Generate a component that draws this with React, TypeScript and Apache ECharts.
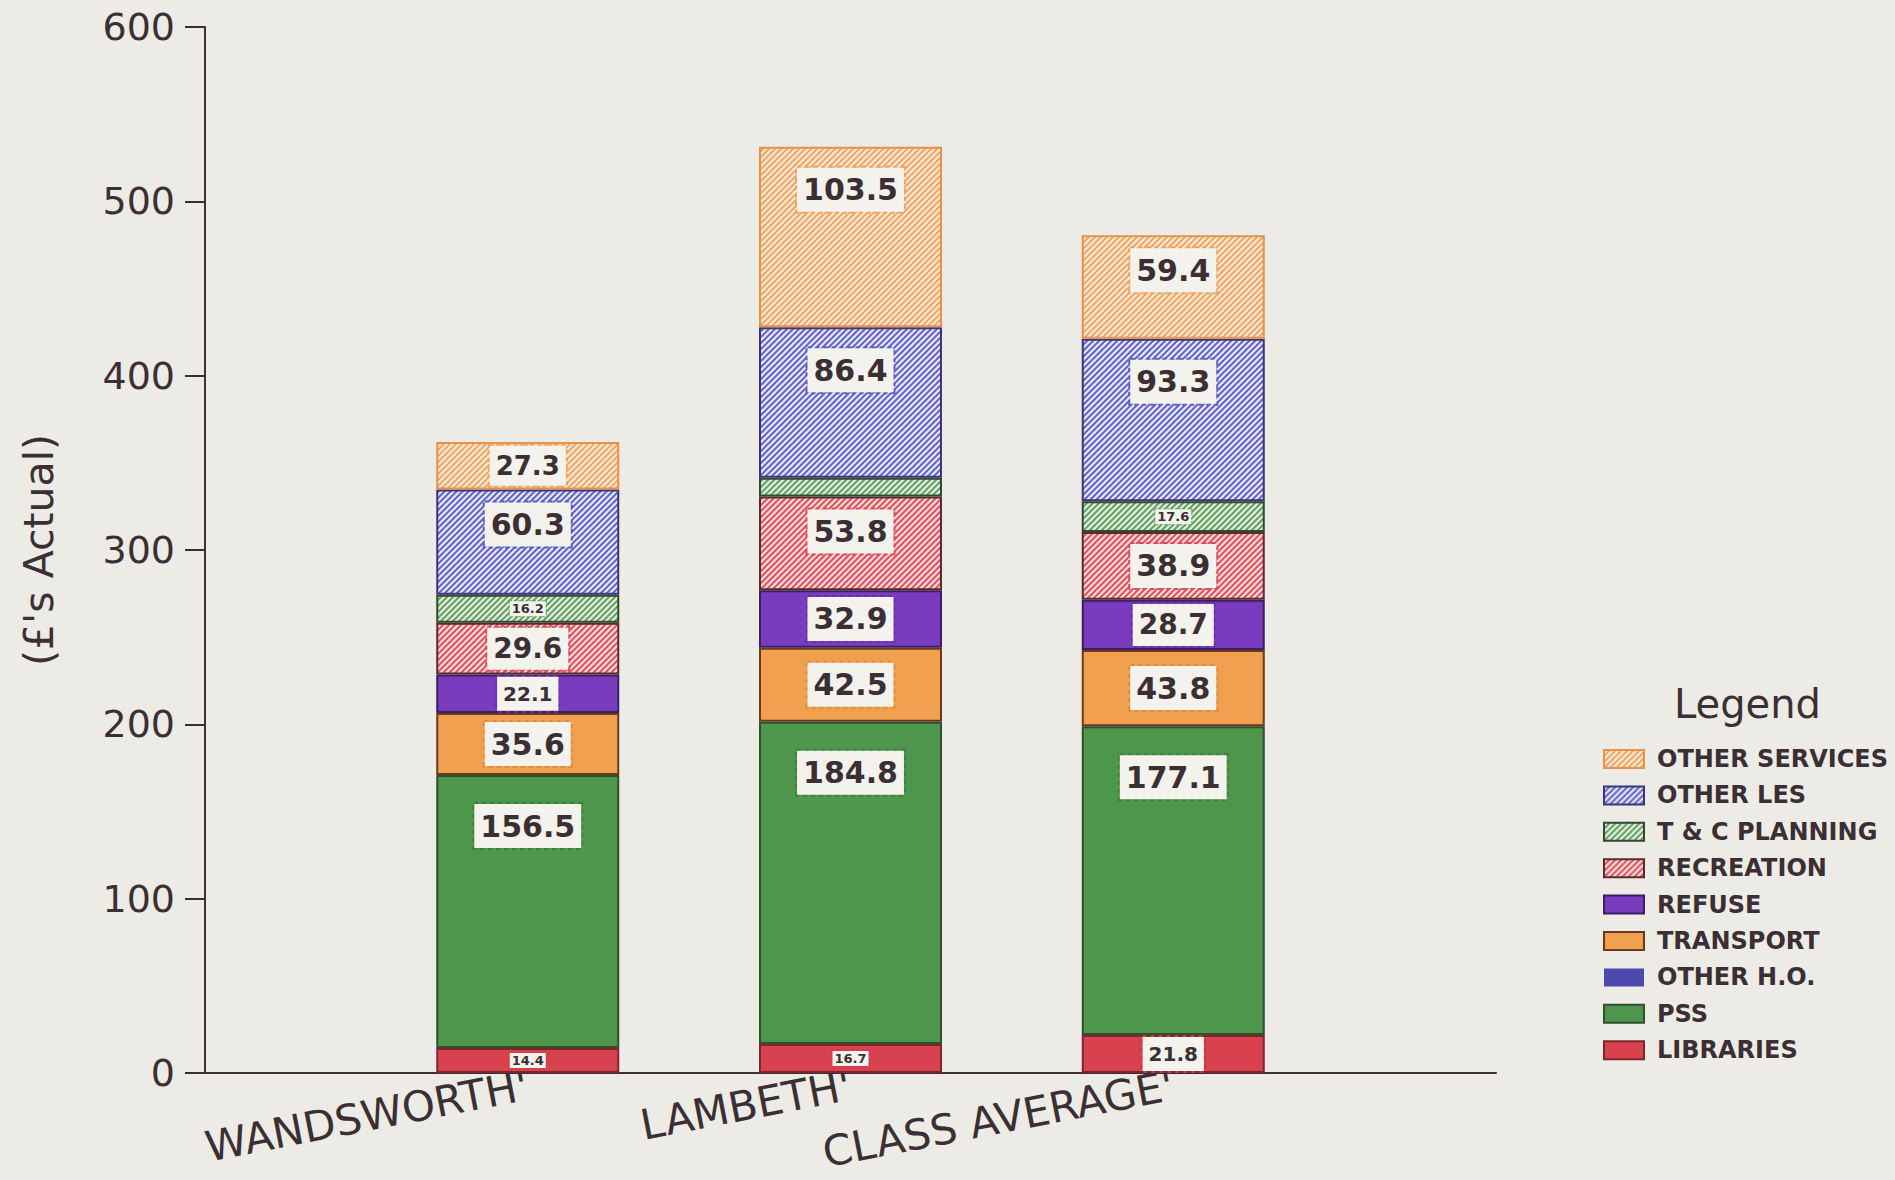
import React, { useEffect, useRef } from "react";
import * as echarts from "echarts";

// Spending per head by service, stacked per authority
const categories = ["", "WANDSWORTH'", "LAMBETH'", "CLASS AVERAGE'", ""];
const libraries = [null, 14.4, 16.7, 21.8, null];
const pss = [null, 156.5, 184.8, 177.1, null];
const otherHO = [null, 0, 0, 0, null];
const transport = [null, 35.6, 42.5, 43.8, null];
const refuse = [null, 22.1, 32.9, 28.7, null];
const recreation = [null, 29.6, 53.8, 38.9, null];
const tcPlanning = [null, 16.2, 10.7, 17.6, null];
const otherLes = [null, 60.3, 86.4, 93.3, null];
const otherServices = [null, 27.3, 103.5, 59.4, null];

// segments drawn without a value box
const unlabelled: Array<[string, string]> = [["T & C PLANNING", "LAMBETH'"]];

const yTicks = [0, 100, 200, 300, 400, 500, 600];

const INK = "#3b2f34";
const PAPER = "#ecebe5";
const FONT = "'DejaVu Sans', sans-serif";

function hatch(bg: string, line: string, size = 6, width = 1.9) {
  const c = document.createElement("canvas");
  c.width = size;
  c.height = size;
  const ctx = c.getContext("2d")!;
  ctx.fillStyle = bg;
  ctx.fillRect(0, 0, size, size);
  ctx.strokeStyle = line;
  ctx.lineWidth = width;
  ctx.beginPath();
  ctx.moveTo(-size / 2, size / 2);
  ctx.lineTo(size / 2, -size / 2);
  ctx.moveTo(0, size);
  ctx.lineTo(size, 0);
  ctx.moveTo(size / 2, size * 1.5);
  ctx.lineTo(size * 1.5, size / 2);
  ctx.stroke();
  return { image: c, repeat: "repeat" } as any;
}

type Svc = {
  name: string;
  data: (number | null)[];
  fill: any;
  edge: string;
  boxEdge: string;
};

function labelSize(v: number) {
  if (v < 20) return 13;
  if (v < 25) return 20;
  if (v < 28) return 26;
  if (v < 30) return 28;
  return 30;
}

function labelPlacement(v: number) {
  if (v < 50) return { position: "inside", distance: 0 };
  if (v < 70) return { position: "insideTop", distance: 13 };
  if (v < 120) return { position: "insideTop", distance: 21 };
  return { position: "insideTop", distance: 29 };
}

export default function App() {
  const ref = useRef<HTMLDivElement>(null);

  useEffect(() => {
    if (!ref.current) return;
    const chart = echarts.init(ref.current, null, { renderer: "svg" });

    const services: Svc[] = [
      { name: "LIBRARIES", data: libraries, fill: "#d8424f", edge: "#7e2630", boxEdge: "#c23a46" },
      { name: "PSS", data: pss, fill: "#4d964b", edge: "#2f4f2e", boxEdge: "#3f7d3d" },
      { name: "OTHER H.O.", data: otherHO, fill: "#4c48ae", edge: "#2e2a70", boxEdge: "#4c48ae" },
      { name: "TRANSPORT", data: transport, fill: "#f0a04e", edge: "#6a3a20", boxEdge: "#e08a3a" },
      { name: "REFUSE", data: refuse, fill: "#7a3cbe", edge: "#3a2060", boxEdge: "#6a30b0" },
      { name: "RECREATION", data: recreation, fill: hatch("#f5d6d4", "#e04a58"), edge: "#5a2a30", boxEdge: "#e04a58" },
      { name: "T & C PLANNING", data: tcPlanning, fill: hatch("#dfeadb", "#5a9c58"), edge: "#2f4a30", boxEdge: "#5a9c58" },
      { name: "OTHER LES", data: otherLes, fill: hatch("#e2e2f3", "#5c5cc8"), edge: "#3a3478", boxEdge: "#5c5cc8" },
      { name: "OTHER SERVICES", data: otherServices, fill: hatch("#f7e6d2", "#f0a35e"), edge: "#e8914a", boxEdge: "#f0a35e" },
    ];

    const series = services.map((s) => ({
      name: s.name,
      type: "bar",
      stack: "total",
      barWidth: 183,
      itemStyle: {
        color: s.fill,
        borderColor: s.edge,
        borderWidth: s.name === "OTHER H.O." ? 0 : 2,
      },
      data: s.data.map((v, i) => {
        if (v == null) return null;
        const hidden =
          v === 0 || unlabelled.some(([n, c]) => n === s.name && c === categories[i]);
        const size = labelSize(v);
        const place = labelPlacement(v);
        const small = size < 16;
        return {
          value: v,
          label: {
            show: !hidden,
            position: place.position,
            distance: place.distance,
            formatter: (p: any) => Number(p.value).toFixed(1),
            fontFamily: FONT,
            fontWeight: "bold",
            fontSize: size,
            lineHeight: size,
            color: INK,
            backgroundColor: "#f3f2ec",
            borderColor: s.boxEdge,
            borderType: "dotted",
            borderWidth: small ? 1 : 2,
            padding: small ? [1, 2] : [7, 6],
          },
        };
      }),
    }));

    const option: any = {
      animation: false,
      backgroundColor: PAPER,
      grid: {
        left: 205,
        right: 399,
        top: 27,
        bottom: 107,
        containLabel: false,
        outerBoundsMode: "none",
      },
      xAxis: {
        type: "category",
        data: categories,
        boundaryGap: false,
        axisLine: { show: true, lineStyle: { color: INK, width: 2 } },
        axisTick: { show: false },
        axisLabel: {
          interval: 0,
          rotate: 11,
          margin: 12,
          fontFamily: FONT,
          fontSize: 42,
          color: INK,
        },
        splitLine: { show: false },
      },
      yAxis: {
        type: "value",
        min: yTicks[0],
        max: yTicks[yTicks.length - 1],
        interval: 100,
        name: "(£'s Actual)",
        nameLocation: "middle",
        nameRotate: 90,
        nameGap: 146,
        nameTextStyle: { fontFamily: FONT, fontSize: 41, color: INK },
        axisLine: { show: true, lineStyle: { color: INK, width: 2 } },
        axisTick: { show: true, length: 20, lineStyle: { color: INK, width: 2 } },
        axisLabel: { fontFamily: FONT, fontSize: 38, color: INK, margin: 30 },
        splitLine: { show: false },
      },
      legend: {
        orient: "vertical",
        left: 1598,
        top: 742,
        icon: "rect",
        itemWidth: 40,
        itemHeight: 18,
        itemGap: 12.4,
        data: services.map((s) => s.name).reverse(),
        textStyle: {
          fontFamily: FONT,
          fontWeight: "bold",
          fontSize: 24,
          lineHeight: 22,
          color: INK,
          padding: [0, 0, 0, 8],
        },
        selectedMode: false,
      },
      graphic: [
        {
          type: "text",
          left: 1674,
          top: 684,
          style: { text: "Legend", fontFamily: FONT, fontSize: 40, fill: INK },
        },
      ],
      series,
    };

    chart.setOption(option);
    return () => chart.dispose();
  }, []);

  return (
    <div
      ref={ref}
      style={{ position: "absolute", left: 0, top: 0, width: 1895, height: 1180, background: PAPER }}
    />
  );
}
